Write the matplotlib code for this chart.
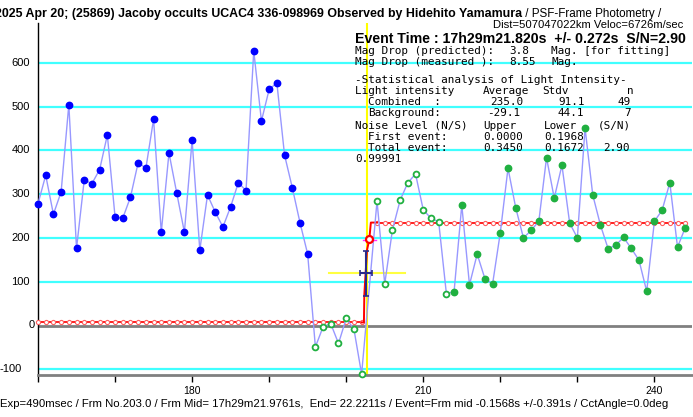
import numpy as np
import matplotlib
matplotlib.use("Agg")
import matplotlib.pyplot as plt
from matplotlib.transforms import blended_transform_factory

# ---------------- data ----------------
blue_frames = list(range(160, 196))
blue_vals = [278, 343, 254, 305, 504, 176, 332, 324, 356, 435, 248, 245, 293, 372,
             359, 471, 213, 394, 303, 213, 423, 172, 298, 259, 225, 271, 326, 308,
             627, 467, 539, 554, 389, 315, 235, 163]

green_open_frames = [196, 197, 198, 199, 200, 201, 202, 204, 205, 206, 207, 208,
                     209, 210, 211, 212, 213]
green_open_vals = [-49, -3, 4, -41, 16, -8, -111, 284, 95, 218, 286, 326, 346,
                   264, 245, 237, 73]
green_fill_frames = list(range(214, 245))
green_fill_vals = [77, 275, 93, 163, 107, 95, 212, 359, 269, 200, 217, 238, 383,
                   291, 366, 234, 200, 451, 298, 229, 175, 184, 201, 176, 149, 78,
                   238, 263, 326, 179, 223]

level_low = 7.1
level_high = 235.0
model_low_frames = list(range(160, 203))
model_high_frames = list(range(204, 245))
model_step_x = [202.0, 202.3, 202.35, 202.7, 203.0, 203.2, 204.0]
model_step_y = [7.1, 7.1, 70, 172, 197, 235, 235]
model_frame203 = (203.0, 197)

event_x = 202.68
event_xerr = 0.80
event_y = 121
event_yerr_lo, event_yerr_hi = 68, 171
yellow_half = 4.9
mag_bar = (202.13, 203.87, 195)

grid_vals = [-100, 100, 200, 300, 400, 500, 600]
ytick_vals = [-100, 0, 100, 200, 300, 400, 500, 600]
xtick_vals = list(range(160, 241, 10))
xtick_labels = {180: "180", 210: "210", 240: "240"}

title_bold = "2025 Apr 20; (25869) Jacoby occults UCAC4 336-098969 Observed by Hidehito Yamamura"
title_norm = " / PSF-Frame Photometry /"
title_line2 = "Dist=507047022km Veloc=6726m/sec"
caption = ("Exp=490msec / Frm No.203.0 / Frm Mid= 17h29m21.9761s,  End= 22.2211s / "
           "Event=Frm mid -0.1568s +/-0.391s / CctAngle=0.0deg")

event_line = "Event Time : 17h29m21.820s  +/- 0.272s  S/N=2.90"
info_rows = [
    (50.7, [(355, "Mag Drop (predicted):"), (509, "3.8"), (551, "Mag. [for fitting]")]),
    (62.3, [(355, "Mag Drop (measured ):"), (509, "8.55"), (551, "Mag.")]),
    (80.0, [(355, "-Statistical analysis of Light Intensity-")]),
    (91.0, [(355, "Light intensity"), (483, "Average"), (542, "Stdv"), (627, "n")]),
    (101.8, [(368, "Combined  :"), (490, "235.0"), (558, "91.1"), (617, "49")]),
    (113.4, [(368, "Background:"), (487, "-29.1"), (558, "44.1"), (624, "7")]),
    (125.6, [(355, "Noise Level (N/S)"), (483, "Upper"), (544, "Lower"), (598, "(S/N)")]),
    (137.2, [(368, "First event:"), (483, "0.0000"), (544, "0.1968")]),
    (148.4, [(368, "Total event:"), (483, "0.3450"), (544, "0.1672"), (603, "2.90")]),
    (158.5, [(355, "0.99991")]),
]

# ---------------- figure ----------------
W, H = 693, 417
fig = plt.figure(figsize=(W / 100, H / 100), dpi=100)
fig.patch.set_facecolor("white")

def fx(x):
    return x / W

def fy(y):
    return 1 - y / H

ax_l, ax_r, ax_t, ax_b = 38.0, 692.0, 23.0, 374.5
ax = fig.add_axes([fx(ax_l), fy(ax_b), (ax_r - ax_l) / W, (ax_b - ax_t) / H])
px_per_frame = 7.705
ax.set_xlim(160, 160 + (ax_r - ax_l) / px_per_frame)
px_per_unit = 0.438
y0_px = 325.5
ax.set_ylim(-(ax_b - y0_px) / px_per_unit, (y0_px - ax_t) / px_per_unit)

for s in ["top", "right"]:
    ax.spines[s].set_visible(False)
ax.spines["left"].set_color("black")
ax.spines["left"].set_linewidth(1.0)
ax.spines["bottom"].set_color("#808080")
ax.spines["bottom"].set_linewidth(2.0)

for g in grid_vals:
    ax.axhline(g, color="#40ffff", lw=1.6, zorder=1)
ax.axhline(0, color="#808080", lw=2.0, zorder=1)

# yellow event lines
ax.axvline(event_x, color="#ffff00", lw=1.5, zorder=2)
ax.plot([event_x - yellow_half, event_x + yellow_half], [event_y, event_y],
        color="#ffff40", lw=1.5, zorder=2)

# model line
ax.plot(model_low_frames, [level_low] * len(model_low_frames), color="#ff2020", lw=1.4,
        marker="o", ms=3.0, mfc="white", mec="#ff6060", mew=0.8, zorder=3, clip_on=False)
ax.plot(model_high_frames, [level_high] * len(model_high_frames), color="#ff2020", lw=1.4,
        marker="o", ms=3.0, mfc="white", mec="#ff6060", mew=0.8, zorder=3)
ax.plot(model_step_x, model_step_y, color="#ff0000", lw=1.4, zorder=3)

# data line
all_x = blue_frames + green_open_frames + green_fill_frames
all_y = blue_vals + green_open_vals + green_fill_vals
order = np.argsort(all_x)
ax.plot(np.array(all_x)[order], np.array(all_y)[order], color="#9898ff", lw=1.0, zorder=4)

ax.plot(blue_frames, blue_vals, ls="none", marker="o", ms=4.6, mfc="#0000ff",
        mec="#0000ff", zorder=5, clip_on=False)
ax.plot(green_open_frames, green_open_vals, ls="none", marker="o", ms=4.2, mfc="white",
        mec="#20b040", mew=1.3, zorder=5, clip_on=False)
ax.plot(green_fill_frames, green_fill_vals, ls="none", marker="o", ms=4.6, mfc="#20b040",
        mec="#20b040", zorder=5, clip_on=False)

# magenta bar + model point at frame 203
ax.plot([mag_bar[0], mag_bar[1]], [mag_bar[2], mag_bar[2]], color="#ff30ff", lw=1.0, zorder=6)
ax.plot([model_frame203[0]], [model_frame203[1]], marker="o", ms=5, mfc="white",
        mec="#ff0000", mew=1.6, zorder=6)

# event error bars
ax.errorbar([event_x - 0.07], [event_y],
            yerr=[[event_y - event_yerr_lo], [event_yerr_hi - event_y]],
            xerr=[[event_xerr], [event_xerr]],
            fmt="none", ecolor="#2a2a8a", elinewidth=1.5, capsize=2.5, capthick=1.2, zorder=7)

# ticks
ax.set_xticks(xtick_vals)
ax.set_xticklabels([xtick_labels.get(v, "") for v in xtick_vals])
ax.tick_params(axis="x", direction="out", length=5, width=1, color="black", pad=3,
               labelsize=7.5)
for lab in ax.get_xticklabels():
    lab.set_fontfamily("Liberation Sans")
ax.set_yticks([])
trans = blended_transform_factory(ax.transAxes, ax.transData)
for v in ytick_vals:
    xoff = -8 / (ax_r - ax_l)
    if v == 0:
        xoff = -3 / (ax_r - ax_l)
    if v == -100:
        xoff = -16 / (ax_r - ax_l)
    ax.text(xoff, v, str(v) if v != -100 else "-100", transform=trans, ha="right",
            va="center", fontsize=8, family="Liberation Sans", clip_on=False)

renderer = fig.canvas.get_renderer()

def fit_width(text_obj, target_w):
    w = text_obj.get_window_extent(renderer).width
    text_obj.set_fontsize(text_obj.get_fontsize() * target_w / w)

# title (left part clipped by figure edge)
tmp = fig.text(0, 0, title_bold[1:], fontsize=8, fontweight="bold", family="Liberation Sans")
fit_width(tmp, 521.7 - 2.7)
fs_title = tmp.get_fontsize()
tmp.remove()
fig.text(fx(521.7), fy(14.5), title_bold, ha="right", va="center", fontsize=fs_title,
         fontweight="bold", family="Liberation Sans")
tn = fig.text(fx(522.5), fy(14.5), title_norm, ha="left", va="center", fontsize=8,
              family="Liberation Sans")
fit_width(tn, 661.7 - 522.5)
t2 = fig.text(fx(683), fy(25.5), title_line2, ha="right", va="center", fontsize=8,
              family="Liberation Sans")
fit_width(t2, 683 - 493)

# caption
tmp = fig.text(0, 0, caption[1:], fontsize=8, family="Liberation Sans")
fit_width(tmp, 668 - 3)
fs_cap = tmp.get_fontsize()
tmp.remove()
fig.text(fx(668), fy(404), caption, ha="right", va="center", fontsize=fs_cap,
         family="Liberation Sans")

# info block
te = fig.text(fx(355), fy(39.3), event_line, ha="left", va="center", fontsize=9,
              fontweight="bold", family="Liberation Sans")
fit_width(te, 685 - 355)
for yrow, pieces in info_rows:
    for xp, s in pieces:
        fig.text(fx(xp), fy(yrow), s, ha="left", va="center", fontsize=7.9,
                 family="DejaVu Sans Mono")

fig.savefig("out.png", dpi=100, facecolor="white")
